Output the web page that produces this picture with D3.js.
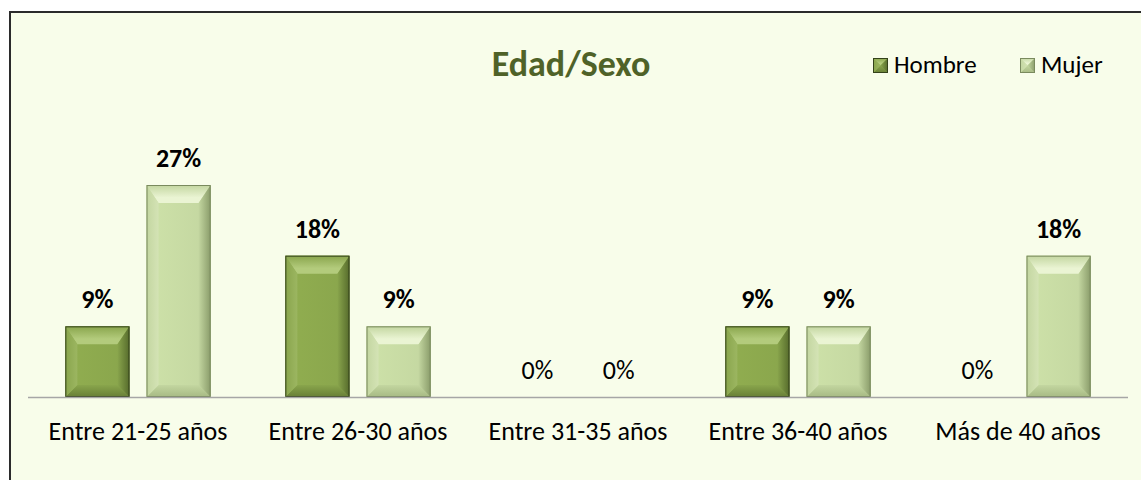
<!DOCTYPE html>
<html>
<head>
<meta charset="utf-8">
<script src="https://cdn.jsdelivr.net/npm/d3@7"></script>
<style>
  html, body { margin: 0; padding: 0; background: #ffffff; }
  svg { display: block; font-family: Carlito, Lato, "Open Sans", sans-serif; }
</style>
</head>
<body>
<svg id="chart" width="1141" height="480"></svg>
<script>
// chart data
const categories = ["Entre 21-25 años", "Entre 26-30 años", "Entre 31-35 años", "Entre 36-40 años", "Más de 40 años"];
const seriesNames = ["Hombre", "Mujer"];
const hombre = [0.0909, 0.1818, 0, 0.0909, 0];
const mujer = [0.2727, 0.0909, 0, 0.0909, 0.1818];
const title = "Edad/Sexo";

// bevel colours per series: face, top, left, right, bottom, outline
const palette = {
    Hombre: { face: "#89A54C", top: "#B3CB7C", left: "#9CB661", right: "#566B2C", bottom: "#687F36", edge: "#34421A" },
    Mujer:  { face: "#C3D6A0", top: "#EAF4D3", left: "#D4E3B5", right: "#8A9C6A", bottom: "#A7BA84", edge: "#7A8A5E" }
};

const width = 1141, height = 480;
const svg = d3.select("#chart");

// frame of the chart area, runs off the bottom and right edge
svg.append("rect")
    .attr("x", 10).attr("y", 12)
    .attr("width", width + 20).attr("height", height + 20)
    .attr("fill", "#F8FDEA")
    .attr("stroke", "#2b2b2b")
    .attr("stroke-width", 2);

const baseY = 397;

// x scales: category band, then series inside the band
const x = d3.scaleBand()
    .domain(categories)
    .range([28, 1128])
    .paddingInner(0)
    .paddingOuter(0);

const xs = d3.scaleBand()
    .domain(seriesNames)
    .range([0, x.bandwidth()])
    .paddingInner(0.21)
    .paddingOuter(0.46);

const y = d3.scaleLinear()
    .domain([0, 0.2727])
    .range([baseY, 185]);

// build rows for the bars
const rows = [];
categories.forEach(function (c, i) {
    rows.push({ cat: c, series: "Hombre", value: hombre[i] });
    rows.push({ cat: c, series: "Mujer", value: mujer[i] });
});

// gradients for the facets
const defs = svg.append("defs");
seriesNames.forEach(function (s) {
    const p = palette[s];
    let g = defs.append("linearGradient").attr("id", "face-" + s)
        .attr("x1", 0).attr("x2", 1).attr("y1", 0).attr("y2", 0);
    g.append("stop").attr("offset", "0%").attr("stop-color", d3.color(p.face).brighter(0.15));
    g.append("stop").attr("offset", "100%").attr("stop-color", p.face);

    g = defs.append("linearGradient").attr("id", "top-" + s)
        .attr("x1", 0).attr("x2", 0).attr("y1", 0).attr("y2", 1);
    g.append("stop").attr("offset", "0%").attr("stop-color", p.face);
    g.append("stop").attr("offset", "70%").attr("stop-color", p.top);
    g.append("stop").attr("offset", "100%").attr("stop-color", p.top);

    g = defs.append("linearGradient").attr("id", "right-" + s)
        .attr("x1", 0).attr("x2", 1).attr("y1", 0).attr("y2", 0);
    g.append("stop").attr("offset", "0%").attr("stop-color", p.face);
    g.append("stop").attr("offset", "100%").attr("stop-color", p.right);

    g = defs.append("linearGradient").attr("id", "left-" + s)
        .attr("x1", 0).attr("x2", 1).attr("y1", 0).attr("y2", 0);
    g.append("stop").attr("offset", "0%").attr("stop-color", p.face);
    g.append("stop").attr("offset", "100%").attr("stop-color", p.left);

    g = defs.append("linearGradient").attr("id", "bottom-" + s)
        .attr("x1", 0).attr("x2", 0).attr("y1", 0).attr("y2", 1);
    g.append("stop").attr("offset", "0%").attr("stop-color", p.face);
    g.append("stop").attr("offset", "100%").attr("stop-color", p.bottom);
});

// draws one bevelled bar
function bevelBar(sel, x0, y0, w, h, s) {
    const p = palette[s];
    const b = Math.min(12, w / 2, h / 2);
    const bt = Math.min(18, h / 2);
    const x1 = x0 + w, y1 = y0 + h;
    const pts = function (a) { return a.map(function (q) { return q.join(","); }).join(" "); };

    sel.append("rect").attr("x", x0).attr("y", y0).attr("width", w).attr("height", h)
        .attr("fill", "url(#face-" + s + ")");
    sel.append("polygon").attr("fill", "url(#top-" + s + ")")
        .attr("points", pts([[x0, y0], [x1, y0], [x1 - b, y0 + bt], [x0 + b, y0 + bt]]));
    sel.append("polygon").attr("fill", "url(#bottom-" + s + ")")
        .attr("points", pts([[x0, y1], [x1, y1], [x1 - b, y1 - b], [x0 + b, y1 - b]]));
    sel.append("polygon").attr("fill", "url(#left-" + s + ")")
        .attr("points", pts([[x0, y0], [x0 + b, y0 + bt], [x0 + b, y1 - b], [x0, y1]]));
    sel.append("polygon").attr("fill", "url(#right-" + s + ")")
        .attr("points", pts([[x1, y0], [x1 - b, y0 + bt], [x1 - b, y1 - b], [x1, y1]]));
    sel.append("rect").attr("x", x0 + 0.5).attr("y", y0 + 0.5).attr("width", w - 1).attr("height", h - 1)
        .attr("fill", "none").attr("stroke", p.edge).attr("stroke-width", 1);
}

const pct = d3.format(".0%");

rows.forEach(function (d) {
    const bx = x(d.cat) + xs(d.series);
    const bw = xs.bandwidth();
    const top = y(d.value);
    if (d.value > 0) {
        bevelBar(svg.append("g"), bx, top, bw, baseY - top, d.series);
    }
    svg.append("text")
        .attr("x", bx + bw / 2)
        .attr("y", top - 18)
        .attr("text-anchor", "middle")
        .attr("font-size", 26)
        .attr("font-weight", d.value > 0 ? "bold" : "normal")
        .attr("fill", "#000")
        .text(pct(d.value));
});

// category axis line
svg.append("line")
    .attr("x1", x.range()[0]).attr("x2", x.range()[1])
    .attr("y1", baseY + 0.5).attr("y2", baseY + 0.5)
    .attr("stroke", "#a6a6a6").attr("stroke-width", 1.5);

svg.selectAll(".cat")
    .data(categories)
    .enter().append("text")
    .attr("class", "cat")
    .attr("x", function (d) { return x(d) + x.bandwidth() / 2; })
    .attr("y", 440)
    .attr("text-anchor", "middle")
    .attr("font-size", 26)
    .attr("fill", "#000")
    .text(function (d) { return d; });

// title
svg.append("text")
    .attr("x", 571).attr("y", 76)
    .attr("text-anchor", "middle")
    .attr("font-size", 36)
    .attr("font-weight", "bold")
    .attr("fill", "#4F6228")
    .text(title);

// legend
const legendX = [873, 1020];
seriesNames.forEach(function (s, i) {
    const g = svg.append("g");
    bevelBar(g, legendX[i], 58, 15, 15, s);
    g.append("text")
        .attr("x", legendX[i] + 21).attr("y", 73)
        .attr("font-size", 25)
        .attr("fill", "#000")
        .text(s);
});
</script>
</body>
</html>
